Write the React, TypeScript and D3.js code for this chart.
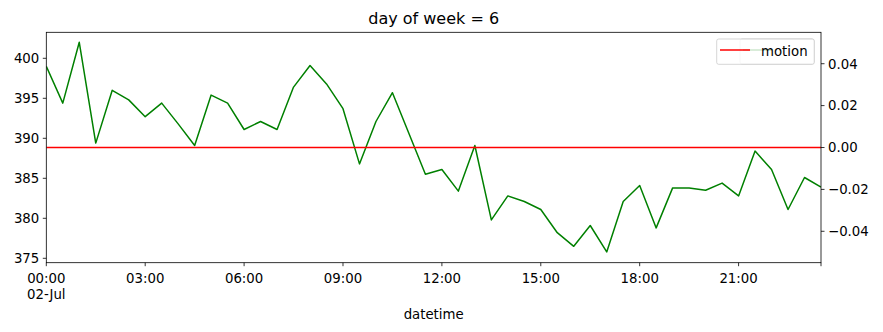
import React from "react";
import * as d3 from "d3";

const times: string[] = [
  "00:00","00:30","01:00","01:30","02:00","02:30","03:00","03:30",
  "04:00","04:30","05:00","05:30","06:00","06:30","07:00","07:30",
  "08:00","08:30","09:00","09:30","10:00","10:30","11:00","11:30",
  "12:00","12:30","13:00","13:30","14:00","14:30","15:00","15:30",
  "16:00","16:30","17:00","17:30","18:00","18:30","19:00","19:30",
  "20:00","20:30","21:00","21:30","22:00","22:30","23:00","23:30",
];
const co2: number[] = [
  399.0, 394.4, 402.0, 389.4, 396.0, 394.8, 392.7, 394.4,
  391.8, 389.1, 395.4, 394.4, 391.1, 392.1, 391.1, 396.4,
  399.1, 396.8, 393.7, 386.8, 392.1, 395.7, 390.6, 385.5,
  386.1, 383.4, 389.1, 379.8, 382.8, 382.1, 381.1, 378.2,
  376.5, 379.1, 375.8, 382.1, 384.1, 378.8, 383.8, 383.8,
  383.5, 384.4, 382.8, 388.4, 386.1, 381.1, 385.1, 383.9,
];
const motion: number[] = times.map(() => 0);
const leftTicks = [375, 380, 385, 390, 395, 400];
const rightTicks = [-0.04, -0.02, 0, 0.02, 0.04];
const xTickLabels = ["00:00", "03:00", "06:00", "09:00", "12:00", "15:00", "18:00", "21:00"];

const parse = (t: string) => {
  const [h, m] = t.split(":").map(Number);
  return new Date(2023, 6, 2, h, m);
};

export default function App() {
  const W = 883, H = 332;
  const L = 46.3, R = 821, T = 32.3, B = 262.7;
  const x = d3.scaleTime().domain([parse(times[0]), parse(times[times.length - 1])]).range([L, R]);
  const yL = d3.scaleLinear().domain([374.45, 403.25]).range([B, T]);
  const yR = d3.scaleLinear().domain([-0.055, 0.055]).range([B, T]);
  const lineL = d3.line<number>().x((_, i) => x(parse(times[i]))).y((d) => yL(d));
  const lineR = d3.line<number>().x((_, i) => x(parse(times[i]))).y((d) => yR(d));
  const font = "DejaVu Sans, sans-serif";
  const fmtR = (v: number) => (v < 0 ? "\u2212" : "") + Math.abs(v).toFixed(2);

  return (
    <svg width={W} height={H} style={{ position: "absolute", left: 0, top: 0 }} fontFamily={font}>
      <rect x={0} y={0} width={W} height={H} fill="#fff" />
      <defs>
        <clipPath id="plot"><rect x={L} y={T} width={R - L} height={B - T} /></clipPath>
      </defs>
      <g clipPath="url(#plot)">
        <path d={lineL(co2) || ""} fill="none" stroke="#008000" strokeWidth={1.5} strokeLinejoin="round" />
        <path d={lineR(motion) || ""} fill="none" stroke="#ff0000" strokeWidth={1.5} />
      </g>
      <rect x={L} y={T} width={R - L} height={B - T} fill="none" stroke="#000" strokeWidth={0.8} />
      {leftTicks.map((v) => (
        <g key={"l" + v}>
          <line x1={L - 3.5} x2={L} y1={yL(v)} y2={yL(v)} stroke="#000" strokeWidth={0.8} />
          <text x={L - 7} y={yL(v)} dy="0.36em" textAnchor="end" fontSize={13.3} fill="#000">{v}</text>
        </g>
      ))}
      {rightTicks.map((v) => (
        <g key={"r" + v}>
          <line x1={R} x2={R + 3.5} y1={yR(v)} y2={yR(v)} stroke="#000" strokeWidth={0.8} />
          <text x={R + 7} y={yR(v)} dy="0.36em" textAnchor="start" fontSize={13.3} fill="#000">{fmtR(v)}</text>
        </g>
      ))}
      {xTickLabels.map((t, i) => {
        const px = x(parse(t));
        return (
          <g key={"x" + t}>
            <line x1={px} x2={px} y1={B} y2={B + 3.5} stroke="#000" strokeWidth={0.8} />
            <text x={px} y={282.5} textAnchor="middle" fontSize={13.3} fill="#000">{t}</text>
            {i === 0 && <text x={px} y={298.5} textAnchor="middle" fontSize={13.3} fill="#000">02-Jul</text>}
          </g>
        );
      })}
      <line x1={R} x2={R} y1={B} y2={B + 3.5} stroke="#000" strokeWidth={0.8} />
      <text x={(L + R) / 2} y={319} textAnchor="middle" fontSize={13.3} fill="#000">datetime</text>
      <text x={(L + R) / 2} y={24} textAnchor="middle" fontSize={16} fill="#000">day of week = 6</text>
      <g>
        <rect x={740} y={39} width={74} height={25} rx={2} fill="#fff" fillOpacity={0.8} stroke="#ccc" strokeOpacity={0.8} />
        <line x1={743} x2={773} y1={50} y2={50} stroke="#008000" strokeWidth={1.5} />
        <rect x={716.7} y={39} width={97.6} height={25.3} rx={2} fill="#fff" fillOpacity={0.8} stroke="#ccc" strokeOpacity={0.8} />
        <line x1={720} x2={750} y1={50} y2={50} stroke="#ff0000" strokeWidth={1.5} />
        <text x={761} y={56} fontSize={13.3} fill="#000">motion</text>
      </g>
    </svg>
  );
}
